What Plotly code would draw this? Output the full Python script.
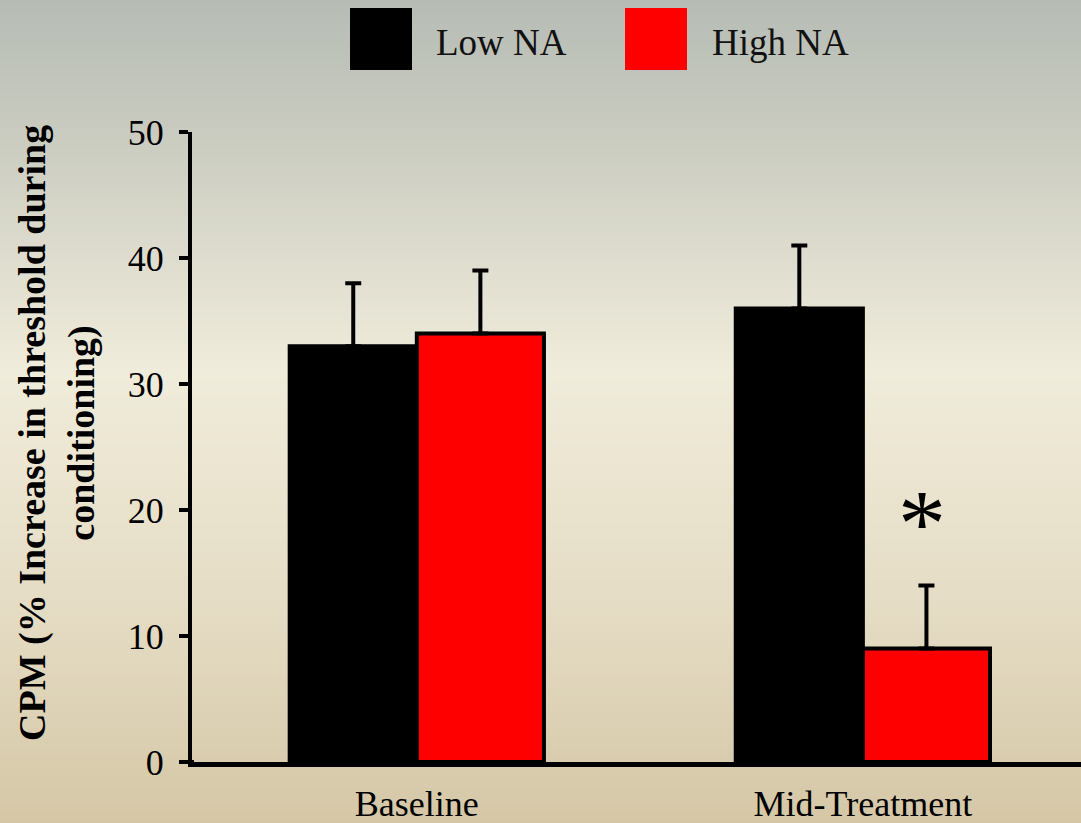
import plotly.graph_objects as go

# Conditioned pain modulation by negative-affect group
categories = ["Baseline", "Mid-Treatment"]
low_na = [33, 36]
low_na_err = [5, 5]
high_na = [34, 9]
high_na_err = [5, 5]
y_ticks = [0, 10, 20, 30, 40, 50]

SERIF = "Liberation Serif, Times New Roman, serif"

fig = go.Figure()
fig.add_trace(go.Bar(
    name="Low NA", x=categories, y=low_na,
    marker=dict(color="#000000", line=dict(color="#000000", width=4)),
    error_y=dict(type="data", array=low_na_err, arrayminus=[0, 0], symmetric=False,
                 color="#000000", thickness=4, width=8),
))
fig.add_trace(go.Bar(
    name="High NA", x=categories, y=high_na,
    marker=dict(color="#ff0000", line=dict(color="#000000", width=4)),
    error_y=dict(type="data", array=high_na_err, arrayminus=[0, 0], symmetric=False,
                 color="#000000", thickness=4, width=8),
))

# Vertical background gradient built from thin paper-space bands
stops = [
    (0.00, (182, 188, 181)),
    (0.15, (200, 202, 191)),
    (0.45, (240, 236, 219)),
    (0.75, (228, 219, 195)),
    (1.00, (213, 199, 166)),
]


def color_at(t):
    for (t0, c0), (t1, c1) in zip(stops[:-1], stops[1:]):
        if t0 <= t <= t1:
            f = (t - t0) / (t1 - t0)
            return "rgb(%d,%d,%d)" % tuple(round(a + (b - a) * f) for a, b in zip(c0, c1))
    return "rgb(%d,%d,%d)" % stops[-1][1]


W, H = 1081, 823
ML, MR, MT, MB = 192, 0, 132, 61
pw, ph = W - ML - MR, H - MT - MB


def px_to_paper_x(px):
    return (px - ML) / pw


def px_to_paper_y(py):
    return (H - MB - py) / ph


shapes = []
n_bands = 206
for i in range(n_bands):
    top = i * H / n_bands
    bot = (i + 1) * H / n_bands + 0.6
    shapes.append(dict(
        type="rect", xref="paper", yref="paper", layer="below",
        x0=px_to_paper_x(-2), x1=px_to_paper_x(W + 2),
        y0=px_to_paper_y(bot), y1=px_to_paper_y(top),
        line=dict(width=0), fillcolor=color_at((i + 0.5) / n_bands),
    ))

# Legend swatches
shapes.append(dict(type="rect", xref="paper", yref="paper",
                   x0=px_to_paper_x(350), x1=px_to_paper_x(412),
                   y0=px_to_paper_y(70), y1=px_to_paper_y(8),
                   line=dict(width=0), fillcolor="#000000"))
shapes.append(dict(type="rect", xref="paper", yref="paper",
                   x0=px_to_paper_x(625), x1=px_to_paper_x(687),
                   y0=px_to_paper_y(70), y1=px_to_paper_y(8),
                   line=dict(width=0), fillcolor="#ff0000"))
# Horizontal axis line carried left to meet the zero tick
shapes.append(dict(type="line", xref="paper", yref="paper",
                   x0=px_to_paper_x(183), x1=px_to_paper_x(194),
                   y0=0, y1=0, line=dict(color="#000000", width=4)))

annotations = [
    dict(text="Low NA", xref="paper", yref="paper", x=px_to_paper_x(434),
         y=px_to_paper_y(42), xanchor="left", yanchor="middle", showarrow=False,
         font=dict(family=SERIF, size=37, color="#111111")),
    dict(text="High NA", xref="paper", yref="paper", x=px_to_paper_x(710),
         y=px_to_paper_y(42), xanchor="left", yanchor="middle", showarrow=False,
         font=dict(family=SERIF, size=37, color="#111111")),
    dict(text="<b>CPM (% Increase in threshold during<br>conditioning)</b>",
         xref="paper", yref="paper", x=px_to_paper_x(57), y=px_to_paper_y(433),
         xanchor="center", yanchor="middle", textangle=-90, showarrow=False,
         font=dict(family=SERIF, size=38, color="#000000"), align="center"),
    # significance marker above the High NA bar at mid-treatment
    dict(text="*", x="Mid-Treatment", y=18.9, xshift=59, xref="x", yref="y",
         showarrow=False, xanchor="center", yanchor="middle",
         font=dict(family=SERIF, size=96, color="#000000")),
]

fig.update_layout(
    width=W, height=H,
    margin=dict(l=ML, r=MR, t=MT, b=MB, autoexpand=False),
    paper_bgcolor="#e8e2cc",
    plot_bgcolor="rgba(0,0,0,0)",
    barmode="group",
    bargap=0.43,
    bargroupgap=0,
    showlegend=False,
    shapes=shapes,
    annotations=annotations,
    font=dict(family=SERIF, color="#000000"),
    xaxis=dict(
        range=[-0.504, 1.489], showline=True, linecolor="#000000", linewidth=5,
        ticks="", showgrid=False, zeroline=False, ticklabelstandoff=6,
        automargin=False,
        tickfont=dict(family=SERIF, size=36, color="#000000"),
    ),
    yaxis=dict(
        range=[0, 50], tickvals=y_ticks, showline=True, linecolor="#000000",
        linewidth=4, ticks="outside", ticklen=9, tickwidth=4, tickcolor="#000000",
        showgrid=False, zeroline=False, ticklabelstandoff=8, automargin=False,
        tickfont=dict(family=SERIF, size=36, color="#000000"),
    ),
)

fig.write_html("out.html")
